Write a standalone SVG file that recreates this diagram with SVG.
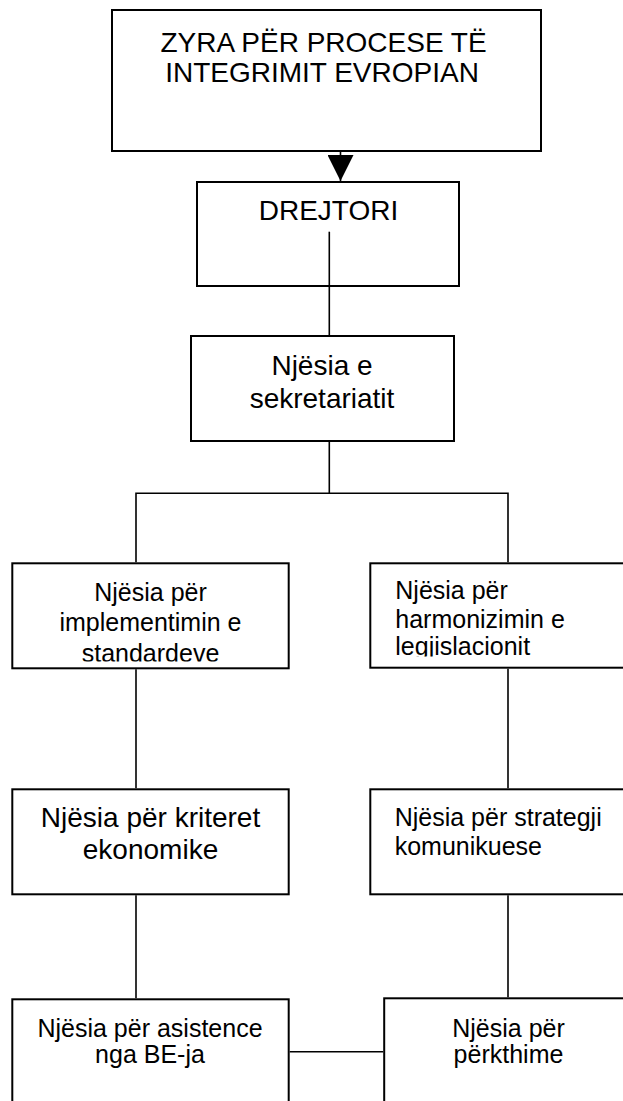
<svg xmlns="http://www.w3.org/2000/svg" width="623" height="1101" viewBox="0 0 623 1101">
<style>
.box{fill:#fff;stroke:#000;stroke-width:2}
.ln{fill:none;stroke:#000;stroke-width:1.6}
text{font-family:"Liberation Sans",Arial,sans-serif;fill:#000}
.t28{font-size:28px}
.t25{font-size:25px}
.c{text-anchor:middle}
</style>
<defs>
<marker id="arr" markerUnits="userSpaceOnUse" markerWidth="26" markerHeight="26" viewBox="0 0 25 25" refX="25" refY="12.5" orient="auto">
<path d="M0,0 L25,12.5 L0,25 Z" fill="#000"/>
</marker>
<clipPath id="clipL"><rect x="12" y="563" width="277" height="98.5"/></clipPath>
<clipPath id="clipR"><rect x="370" y="563" width="260" height="93.5"/></clipPath>
</defs>
<g id="n-zyra">
<rect class="box" x="112" y="10" width="429" height="141"/>
<text class="t28 c" x="323.5" y="52">ZYRA PËR PROCESE TË</text>
<text class="t28 c" x="322" y="82">INTEGRIMIT EVROPIAN</text>
</g>
<g id="n-drejtori">
<rect class="box" x="197" y="182" width="262" height="104"/>
<text class="t28 c" x="328.5" y="220">DREJTORI</text>
</g>
<g id="n-sekretariat">
<rect class="box" x="191" y="336" width="263" height="105"/>
<text class="t28 c" x="322" y="375">Njësia e</text>
<text class="t28 c" x="322" y="408">sekretariatit</text>
</g>
<g id="n-implementimin">
<rect class="box" x="12.3" y="563.3" width="276.4" height="105"/>
<g clip-path="url(#clipL)">
<text class="t25 c" x="150.5" y="600.7">Njësia për</text>
<text class="t25 c" x="150.5" y="630.7">implementimin e</text>
<text class="t25 c" x="150.5" y="661.7">standardeve</text>
</g>
</g>
<g id="n-harmonizimin">
<rect class="box" x="370.3" y="563.3" width="260" height="104.4"/>
<g clip-path="url(#clipR)">
<text class="t25" x="395.3" y="599.3">Njësia për</text>
<text class="t25" x="395.3" y="628.3">harmonizimin e</text>
<text class="t25" x="395.3" y="655">legjislacionit</text>
</g>
</g>
<g id="n-kriteret">
<rect class="box" x="12.3" y="789.3" width="276.4" height="105"/>
<text class="t28 c" x="150.5" y="827.3">Njësia për kriteret</text>
<text class="t28 c" x="150.5" y="859.3">ekonomike</text>
</g>
<g id="n-strategji">
<rect class="box" x="370.3" y="789.3" width="260" height="105"/>
<text class="t25" x="394.7" y="826">Njësia për strategji</text>
<text class="t25" x="394.7" y="855">komunikuese</text>
</g>
<g id="n-asistence">
<rect class="box" x="12.3" y="999.3" width="276.4" height="120"/>
<text class="t25 c" x="150" y="1036.7">Njësia për asistence</text>
<text class="t25 c" x="150" y="1063.3">nga BE-ja</text>
</g>
<g id="n-perkthime">
<rect class="box" x="384.2" y="998.3" width="260" height="120"/>
<text class="t25 c" x="508.5" y="1036.7">Njësia për</text>
<text class="t25 c" x="508.5" y="1063.3">përkthime</text>
</g>
<g id="connectors">
<line class="ln" x1="340.5" y1="152" x2="340.5" y2="181" marker-end="url(#arr)"/>
<line class="ln" x1="329.3" y1="231.7" x2="329.3" y2="335"/>
<polyline class="ln" points="329.3,442 329.3,493.3"/>
<polyline class="ln" points="136,562.3 136,493.3 508,493.3 508,562.3"/>
<line class="ln" x1="136" y1="669.3" x2="136" y2="788.3"/>
<line class="ln" x1="508" y1="668.7" x2="508" y2="788.3"/>
<line class="ln" x1="136" y1="895.3" x2="136" y2="998.3"/>
<line class="ln" x1="508" y1="895.3" x2="508" y2="997.3"/>
<line class="ln" x1="289.7" y1="1051.7" x2="383.2" y2="1051.7"/>
</g>
</svg>
